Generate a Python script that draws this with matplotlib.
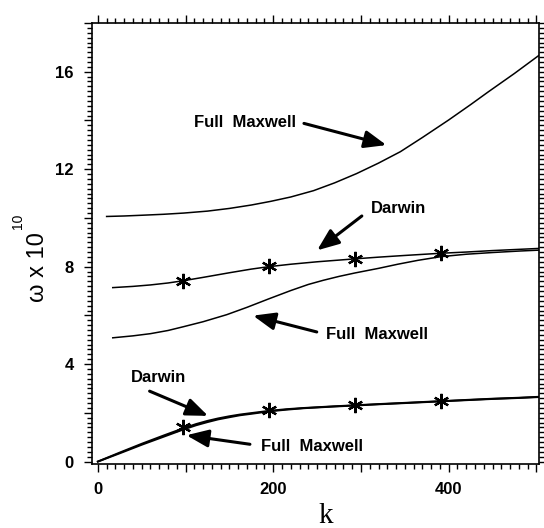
import matplotlib
matplotlib.use("Agg")
import matplotlib.pyplot as plt
from matplotlib.ticker import MultipleLocator, FuncFormatter

# ---- data ----
k_fm_top = [10, 30, 50, 75, 98, 125, 150, 175, 197, 220, 246, 270, 295, 320, 345,
            370, 400, 425, 445, 475, 504]
w_fm_top = [10.06, 10.08, 10.11, 10.15, 10.2, 10.28, 10.39, 10.53, 10.68, 10.86, 11.12,
            11.44, 11.82, 12.25, 12.72, 13.3, 14.02, 14.65, 15.17, 15.93, 16.7]

k_dw_up = [17, 40, 60, 80, 97, 120, 150, 175, 195, 220, 250, 293, 320, 350, 391,
           420, 450, 480, 504]
w_dw_up = [7.14, 7.19, 7.25, 7.33, 7.42, 7.56, 7.75, 7.9, 8.0, 8.1, 8.2, 8.32, 8.39,
           8.46, 8.55, 8.6, 8.66, 8.71, 8.75]

k_fm_mid = [17, 40, 60, 80, 97, 120, 147, 170, 195, 220, 240, 257, 275, 293, 320,
            342, 365, 391, 420, 450, 480, 504]
w_fm_mid = [5.08, 5.16, 5.25, 5.38, 5.53, 5.74, 6.03, 6.33, 6.68, 7.02, 7.27, 7.44,
            7.6, 7.74, 7.93, 8.1, 8.26, 8.41, 8.51, 8.58, 8.64, 8.68]

k_low = [0, 25, 50, 75, 97, 112, 125, 137, 150, 162, 175, 195, 215, 235, 250, 270,
         293, 320, 350, 391, 420, 450, 480, 504]
w_dw_low = [0, 0.37, 0.73, 1.07, 1.36, 1.54, 1.67, 1.77, 1.86, 1.93, 1.99, 2.08, 2.15,
            2.2, 2.23, 2.27, 2.31, 2.36, 2.41, 2.48, 2.53, 2.58, 2.62, 2.66]
w_fm_low = [0, 0.34, 0.69, 1.02, 1.31, 1.49, 1.62, 1.73, 1.82, 1.9, 1.96, 2.06, 2.13,
            2.19, 2.22, 2.26, 2.3, 2.35, 2.4, 2.47, 2.52, 2.57, 2.61, 2.65]

k_star = [97, 195, 293, 391]
w_star_up = [7.42, 8.02, 8.32, 8.55]
w_star_low = [1.40, 2.12, 2.33, 2.50]

x_ticklabels = [0, 200, 400]
y_ticklabels = [0, 4, 8, 12, 16]

# annotations: text, text position, arrow tail, arrow tip
annotations = [
    ("Full  Maxwell", (167.6, 13.92), (235, 13.88), (329, 12.99)),
    ("Darwin", (343.3, 10.38), (301, 10.08), (250, 8.67)),
    ("Full  Maxwell", (318, 5.22), (249.6, 5.32), (177, 5.99)),
    ("Darwin", (68.6, 3.47), (59, 2.89), (125.7, 1.875)),
    ("Full  Maxwell", (243.8, 0.63), (173.4, 0.71), (101, 1.08)),
]

fig = plt.figure(figsize=(5.44, 5.28), dpi=100)
ax = fig.add_axes([0.1686, 0.1212, 0.9908 - 0.1686, 0.9564 - 0.1212])

lw = 1.1
ax.plot(k_fm_top, w_fm_top, color="black", lw=lw)
ax.plot(k_dw_up, w_dw_up, color="black", lw=lw)
ax.plot(k_fm_mid, w_fm_mid, color="black", lw=lw)
ax.plot(k_low, w_dw_low, color="black", lw=1.4)
ax.plot(k_low, w_fm_low, color="black", lw=1.4)
ax.plot(k_star, w_star_up, ls="none", marker=(6, 2, 0), ms=11, mew=1.6, color="black")
ax.plot(k_star, w_star_low, ls="none", marker=(6, 2, 0), ms=11, mew=1.6, color="black")

fnt = dict(family="Liberation Sans", weight="bold", size=12)
for txt, tpos, tail, tip in annotations:
    ax.text(tpos[0], tpos[1], txt, ha="center", va="center", **fnt)
    ax.annotate("", xy=tip, xytext=tail,
                arrowprops=dict(arrowstyle="-|>,head_length=0.95,head_width=0.38",
                                lw=2.2, color="black", shrinkA=0, shrinkB=0,
                                mutation_scale=14))

ax.set_xlim(-7, 503)
ax.set_ylim(-0.1, 18)

ax.xaxis.set_major_locator(MultipleLocator(100))
ax.xaxis.set_minor_locator(MultipleLocator(10))
ax.xaxis.set_major_formatter(FuncFormatter(
    lambda v, p: str(int(round(v))) if int(round(v)) in x_ticklabels else ""))
ax.yaxis.set_major_locator(MultipleLocator(2))
ax.yaxis.set_minor_locator(MultipleLocator(0.2))
ax.yaxis.set_major_formatter(FuncFormatter(
    lambda v, p: str(int(round(v))) if int(round(v)) in y_ticklabels and abs(v - round(v)) < 1e-6 else ""))

ax.tick_params(which="both", direction="out", top=True, right=True, width=1.0)
ax.tick_params(which="major", length=6, pad=7)
ax.tick_params(which="minor", length=3.5)
for lab in ax.get_xticklabels() + ax.get_yticklabels():
    lab.set_fontfamily("Liberation Sans")
    lab.set_fontweight("bold")
    lab.set_fontsize(12)
for s in ax.spines.values():
    s.set_linewidth(1.2)

fig.text(38 / 544, 1 - 267 / 528, "ω x 10", rotation=90, ha="center", va="center",
         family="Liberation Sans", size=17)
fig.text(18 / 544, 1 - 221 / 528, "10", rotation=90, ha="center", va="center",
         family="Liberation Sans", size=10)
fig.text(326 / 544, 1 - 516 / 528, "k", ha="center", va="center",
         family="Liberation Serif", size=21)

fig.savefig("out.png", dpi=100)
